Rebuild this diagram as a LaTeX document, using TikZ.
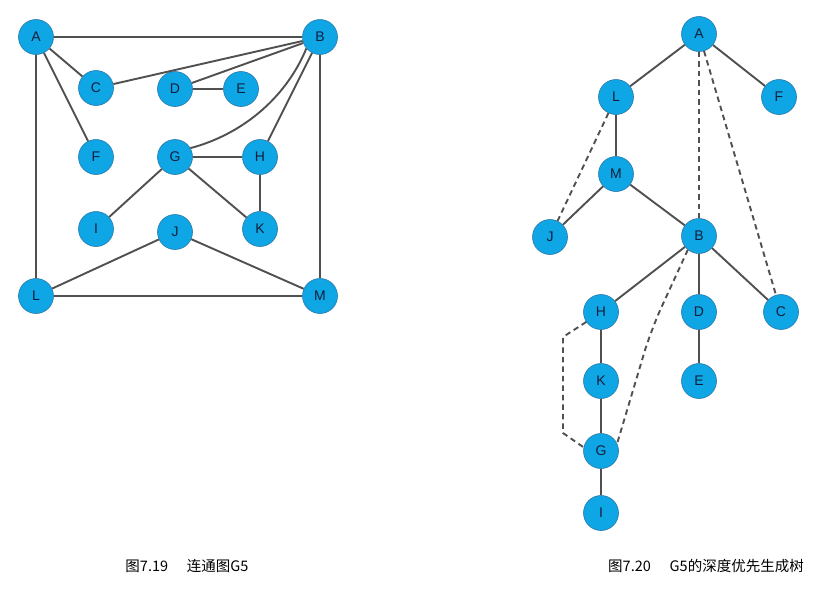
\documentclass[tikz,border=0pt]{standalone}
\usepackage{fontspec}
\setmainfont{Liberation Sans}
\newfontfamily\cjk{Noto Sans CJK SC}
\definecolor{vfill}{RGB}{14,166,228}
\definecolor{vborder}{RGB}{40,120,170}
\definecolor{vtext}{RGB}{20,30,60}
\definecolor{edgegray}{RGB}{80,80,80}
\begin{document}
\begin{tikzpicture}[x=1pt,y=-1pt,
  vertex/.style={circle,minimum size=35pt,inner sep=0pt,fill=vfill,draw=vborder,line width=0.6pt,
    text=vtext,font=\fontsize{14}{15}\selectfont},
  edge/.style={draw=edgegray,line width=1.9pt},
  tree/.style={edge,dash pattern=on 5.5pt off 4pt},
  caption/.style={font=\cjk\fontsize{14.5}{16}\selectfont,text=black}]
\useasboundingbox[fill=white] (0,0) rectangle (828,590);

% ---- connected graph G5 ----
\node[vertex] (A) at (36,37) {A};
\node[vertex] (B) at (320,37) {B};
\node[vertex] (C) at (96,88) {C};
\node[vertex] (D) at (175,89) {D};
\node[vertex] (E) at (241,89) {E};
\node[vertex] (F) at (96,157) {F};
\node[vertex] (G) at (175,157) {G};
\node[vertex] (H) at (260,157) {H};
\node[vertex] (I) at (96,229) {I};
\node[vertex] (J) at (175,232) {J};
\node[vertex] (K) at (260,229) {K};
\node[vertex] (L) at (36,296) {L};
\node[vertex] (M) at (320,296) {M};

\draw[edge] (A) -- (B);
\draw[edge] (A) -- (C);
\draw[edge] (A) -- (F);
\draw[edge] (A) -- (L);
\draw[edge] (B) -- (C);
\draw[edge] (B) -- (D);
\draw[edge] (B.220) .. controls (285,100) and (240,135) .. (G.30);
\draw[edge] (B) -- (H);
\draw[edge] (B) -- (M);
\draw[edge] (D) -- (E);
\draw[edge] (G) -- (H);
\draw[edge] (G) -- (I);
\draw[edge] (G) -- (K);
\draw[edge] (H) -- (K);
\draw[edge] (J) -- (L);
\draw[edge] (J) -- (M);
\draw[edge] (L) -- (M);

\node[caption] (cap1) at (187,566) {图7.19\hspace{1.3em}连通图G5};

% ---- depth-first spanning tree of G5 ----
\node[vertex] (tA) at (699,34) {A};
\node[vertex] (tL) at (616,97) {L};
\node[vertex] (tF) at (779,97) {F};
\node[vertex] (tM) at (616,174) {M};
\node[vertex] (tJ) at (550,237) {J};
\node[vertex] (tB) at (699,236) {B};
\node[vertex] (tH) at (601,312) {H};
\node[vertex] (tD) at (699,312) {D};
\node[vertex] (tC) at (781,312) {C};
\node[vertex] (tK) at (601,381) {K};
\node[vertex] (tE) at (699,381) {E};
\node[vertex] (tG) at (601,451) {G};
\node[vertex] (tI) at (601,513) {I};

\draw[edge] (tA) -- (tL);
\draw[edge] (tA) -- (tF);
\draw[edge] (tL) -- (tM);
\draw[edge] (tM) -- (tJ);
\draw[edge] (tM) -- (tB);
\draw[edge] (tB) -- (tH);
\draw[edge] (tB) -- (tD);
\draw[edge] (tB) -- (tC);
\draw[edge] (tH) -- (tK);
\draw[edge] (tK) -- (tG);
\draw[edge] (tG) -- (tI);
\draw[edge] (tD) -- (tE);

% back edges (dashed)
\coordinate (hg1) at (563,337);
\coordinate (hg2) at (563,433);
\coordinate (bg) at (651,330);
\draw[tree] (tL) -- (tJ);
\draw[tree] (tA) -- (tB);
\draw[tree] (tA) -- (tC);
\draw[tree] (tH.214) -- (hg1) -- (hg2) -- (tG.168);
\draw[tree,rounded corners=25pt] (tB.231) -- (bg) -- (tG.25);

\node[caption] (cap2) at (706,566) {图7.20\hspace{1.3em}G5的深度优先生成树};
\end{tikzpicture}
\end{document}
